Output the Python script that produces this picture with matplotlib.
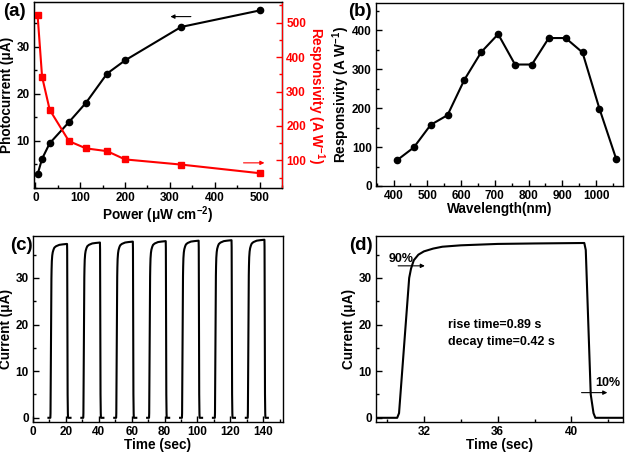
import numpy as np
import matplotlib.pyplot as plt
from matplotlib.ticker import MultipleLocator

plt.rcParams['font.family'] = ['Liberation Sans', 'DejaVu Sans']
plt.rcParams['font.weight'] = 'bold'
plt.rcParams['axes.labelweight'] = 'bold'
plt.rcParams['mathtext.fontset'] = 'custom'
plt.rcParams['mathtext.bf'] = 'Liberation Sans:bold'
plt.rcParams['mathtext.rm'] = 'Liberation Sans:bold'
plt.rcParams['mathtext.default'] = 'bf'

# (a) power dependence
power = [5, 15, 32, 75, 113, 160, 200, 325, 500]
photocurrent = [2.9, 6.2, 9.5, 14.0, 18.1, 24.3, 27.1, 34.2, 37.7]
resp_power = [522, 343, 247, 156, 135, 127, 103, 88, 63]

# (b) spectral response
wavelength = [410, 460, 510, 560, 610, 660, 710, 760, 810, 860, 910, 960, 1010, 1060]
resp_wl = [66, 99, 157, 182, 273, 344, 390, 312, 312, 380, 380, 343, 199, 69]

# (d) one on/off cycle
t_pulse = [29.4, 30.55, 30.65, 31.2, 31.3, 31.45, 31.7, 32.0, 32.5, 33.0, 34.0, 36.0,
           38.0, 40.7, 40.78, 41.05, 41.2, 41.3, 42.8]
i_pulse = [0, 0, 1.0, 30.0, 32.0, 33.8, 35.0, 35.7, 36.3, 36.7, 37.0, 37.3,
           37.4, 37.5, 36.0, 5.0, 1.0, 0, 0]

# (c) repeated cycles: cycle start offsets and plateau levels
cycle_shift = [-20, 0, 20, 40, 60, 80, 100]
plateau = [37.3, 37.6, 37.8, 37.9, 38.0, 38.1, 38.2]

TICK = 8.5
LAB = 9.8
fig = plt.figure(figsize=(6.26, 4.53), dpi=100)
W, H = 626, 453


def box(l, t, r, b):
    return [l / W, 1 - b / H, (r - l) / W, (b - t) / H]


def style(ax):
    ax.tick_params(direction='in', labelsize=TICK, length=4, width=1,
                   top=False, right=False, pad=3)
    ax.tick_params(which='minor', direction='in', length=2.5, width=1,
                   top=False, right=False)
    for s in ax.spines.values():
        s.set_linewidth(1)


arrow_k = dict(arrowstyle='-|>', color='k', lw=0.8, mutation_scale=6)

# ---- (a)
axa = fig.add_axes(box(34, 2, 282, 188))
axa.plot(power, photocurrent, 'k-', marker='o', ms=4.5, lw=1.5)
axa.set_xlim(-3, 550)
axa.set_ylim(0, 39.5)
axa.set_yticks([10, 20, 30])
axa.xaxis.set_major_locator(MultipleLocator(100))
axa.xaxis.set_minor_locator(MultipleLocator(50))
axa.yaxis.set_minor_locator(MultipleLocator(5))
axa.set_xlabel('Power (μW cm$^{-2}$)', fontsize=LAB, labelpad=0)
axa.set_ylabel('Photocurrent (μA)', fontsize=LAB, labelpad=2)
style(axa)
axa.annotate('', xy=(295, 36.4), xytext=(353, 36.4), arrowprops=arrow_k)
axr = axa.twinx()
axr.plot(power, resp_power, color='red', marker='s', ms=4.5, lw=1.5)
axr.set_ylim(20, 560)
axr.yaxis.set_major_locator(MultipleLocator(100))
axr.yaxis.set_minor_locator(MultipleLocator(50))
axr.set_ylabel('Responsivity (A W$^{-1}$)', color='red', fontsize=LAB,
               rotation=270, labelpad=15)
axr.tick_params(axis='y', which='both', direction='in', colors='red', width=1,
                labelsize=TICK, pad=3)
axr.tick_params(axis='y', which='major', length=4)
axr.tick_params(axis='y', which='minor', length=2.5)
axr.spines['right'].set_color('red')
axr.annotate('', xy=(517, 93), xytext=(458, 93),
             arrowprops=dict(arrowstyle='-|>', color='red', lw=0.8, mutation_scale=6))
fig.text(3 / W, 1 - 12 / H, '(a)', fontsize=13.5, fontweight='bold', va='center')

# ---- (b)
axb = fig.add_axes(box(376, 3, 623, 186))
axb.plot(wavelength, resp_wl, 'k-', marker='o', ms=4.5, lw=1.5)
axb.set_xlim(348, 1080)
axb.set_ylim(0, 470)
axb.xaxis.set_major_locator(MultipleLocator(100))
axb.xaxis.set_minor_locator(MultipleLocator(50))
axb.yaxis.set_major_locator(MultipleLocator(100))
axb.yaxis.set_minor_locator(MultipleLocator(50))
axb.set_xlabel('Wavelength(nm)', fontsize=LAB, labelpad=0)
axb.set_ylabel('Responsivity (A W$^{-1}$)', fontsize=LAB, labelpad=0)
style(axb)
fig.text(348 / W, 1 - 12 / H, '(b)', fontsize=13.5, fontweight='bold', va='center')

# ---- (c)
axc = fig.add_axes(box(33, 236, 283, 422))
for sh, lev in zip(cycle_shift, plateau):
    t = np.array(t_pulse) + sh
    i = np.array(i_pulse) * lev / 37.5
    axc.plot(t, i, 'k-', lw=1.5)
axc.set_xlim(0, 152)
axc.set_ylim(-0.9, 39)
axc.xaxis.set_major_locator(MultipleLocator(20))
axc.xaxis.set_minor_locator(MultipleLocator(10))
axc.yaxis.set_major_locator(MultipleLocator(10))
axc.yaxis.set_minor_locator(MultipleLocator(5))
axc.set_xlabel('Time (sec)', fontsize=LAB, labelpad=0)
axc.set_ylabel('Current (μA)', fontsize=LAB, labelpad=2)
style(axc)
fig.text(10 / W, 1 - 246 / H, '(c)', fontsize=13.5, fontweight='bold', va='center')

# ---- (d)
axd = fig.add_axes(box(376, 236, 623, 422))
axd.plot(t_pulse, i_pulse, 'k-', lw=1.5)
axd.set_xlim(29.4, 42.8)
axd.set_ylim(-0.9, 39)
axd.xaxis.set_major_locator(MultipleLocator(4))
axd.xaxis.set_minor_locator(MultipleLocator(2))
axd.yaxis.set_major_locator(MultipleLocator(10))
axd.yaxis.set_minor_locator(MultipleLocator(5))
axd.set_xlabel('Time (sec)', fontsize=LAB, labelpad=0)
axd.set_ylabel('Current (μA)', fontsize=LAB, labelpad=2)
style(axd)
axd.text(30.1, 33.4, '90%', fontsize=9, fontweight='bold', va='baseline')
axd.annotate('', xy=(32.2, 32.6), xytext=(30.45, 32.6), arrowprops=arrow_k)
axd.text(33.3, 19.9, 'rise time=0.89 s', fontsize=9, fontweight='bold', va='center')
axd.text(33.3, 16.3, 'decay time=0.42 s', fontsize=9, fontweight='bold', va='center')
axd.text(41.3, 7.5, '10%', fontsize=9, fontweight='bold', va='center')
axd.annotate('', xy=(42.1, 5.4), xytext=(40.4, 5.4), arrowprops=arrow_k)
fig.text(349 / W, 1 - 246 / H, '(d)', fontsize=13.5, fontweight='bold', va='center')

fig.savefig('out.png', dpi=100)
